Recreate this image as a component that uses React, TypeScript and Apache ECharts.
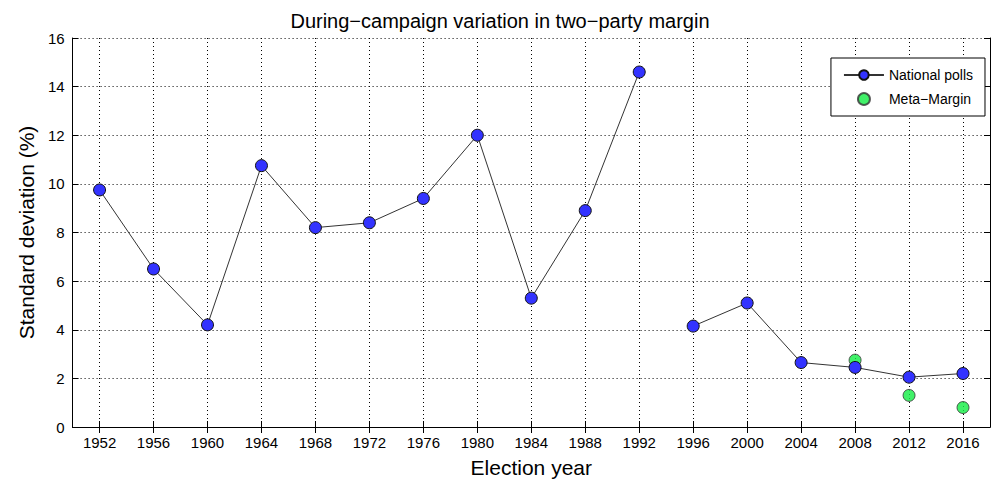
import { useEffect, useRef } from 'react';
import * as echarts from 'echarts';

const years = [1952, 1956, 1960, 1964, 1968, 1972, 1976, 1980, 1984, 1988, 1992, 1996, 2000, 2004, 2008, 2012, 2016];
const nationalPolls = [9.75, 6.5, 4.2, 10.75, 8.2, 8.4, 9.4, 12.0, 5.3, 8.9, 14.6, 4.15, 5.1, 2.65, 2.45, 2.05, 2.2];
const metaYears = [2008, 2012, 2016];
const metaMargin = [2.75, 1.3, 0.8];
const yTicks = [0, 2, 4, 6, 8, 10, 12, 14, 16];

const font = 'Arial, "Liberation Sans", sans-serif';

export default function App() {
  const ref = useRef<HTMLDivElement>(null);

  useEffect(() => {
    if (!ref.current) return;
    const chart = echarts.init(ref.current, undefined, { renderer: 'svg' });

    // gap between 1992 and 1996
    const pollData: any[] = [];
    years.forEach((y, i) => {
      pollData.push([y, nationalPolls[i]]);
      if (y === 1992) pollData.push([1994, null]);
    });

    const xBase = {
      type: 'value' as const,
      min: 1950,
      max: 2018,
      axisLine: { show: true, lineStyle: { color: '#000' } },
      axisTick: { show: true, inside: true, length: 6, customValues: years, lineStyle: { color: '#000' } },
      splitLine: { show: false },
    };
    const yBase = {
      type: 'value' as const,
      min: 0,
      max: 16,
      interval: 2,
      axisLine: { show: true, lineStyle: { color: '#000' } },
      axisTick: { show: true, inside: true, length: 6, lineStyle: { color: '#000' } },
      splitLine: { show: false },
    };

    chart.setOption({
      animation: false,
      textStyle: { fontFamily: font },
      title: {
        text: 'During\u2212campaign variation in two\u2212party margin',
        left: 'center',
        top: -2,
        textStyle: { fontSize: 20, fontWeight: 'normal', color: '#000', fontFamily: font },
      },
      grid: { left: 57, right: 2, top: 30, bottom: 50 },
      legend: {
        orient: 'vertical',
        right: 7,
        top: 50,
        itemGap: 10,
        padding: [10, 12, 10, 12],
        borderColor: '#000',
        borderWidth: 1,
        backgroundColor: '#fff',
        itemWidth: 40,
        itemHeight: 12,
        textStyle: { fontSize: 14, color: '#000', fontFamily: font },
        data: ['National polls', 'Meta\u2212Margin'],
      },
      xAxis: [
        {
          ...xBase,
          position: 'bottom',
          name: 'Election year',
          nameLocation: 'middle',
          nameGap: 30,
          nameTextStyle: { fontSize: 21, color: '#000', fontFamily: font },
          axisLabel: { customValues: years, fontSize: 15, color: '#000', margin: 8, formatter: (v: number) => String(v) },
          splitLine: { show: true, lineStyle: { color: '#000', type: [1, 3], width: 1 } },
        },
        { ...xBase, position: 'top', axisLabel: { show: false } },
      ],
      yAxis: [
        {
          ...yBase,
          position: 'left',
          name: 'Standard deviation (%)',
          nameLocation: 'middle',
          nameGap: 34,
          nameTextStyle: { fontSize: 21, color: '#000', fontFamily: font },
          axisLabel: { fontSize: 15, color: '#000', margin: 8, customValues: yTicks },
          splitLine: { show: true, lineStyle: { color: '#000', type: [1, 3], width: 1 } },
        },
        { ...yBase, position: 'right', axisLabel: { show: false } },
      ],
      series: [
        {
          name: 'National polls',
          type: 'line',
          data: pollData,
          connectNulls: false,
          symbol: 'circle',
          symbolSize: 12,
          lineStyle: { color: '#333', width: 1 },
          itemStyle: { color: '#3333ff', borderColor: '#111', borderWidth: 1 },
        },
        {
          name: 'Meta\u2212Margin',
          type: 'scatter',
          data: metaYears.map((y, i) => [y, metaMargin[i]]),
          symbol: 'circle',
          symbolSize: 12,
          itemStyle: { color: '#11ee44', borderColor: '#333', borderWidth: 1 },
        },
      ],
    });

    return () => chart.dispose();
  }, []);

  return <div ref={ref} style={{ width: 984, height: 475 }} />;
}
